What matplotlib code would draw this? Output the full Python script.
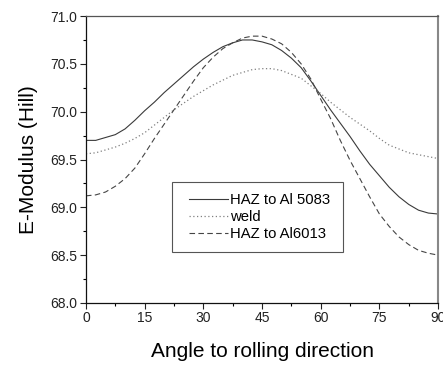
import matplotlib
matplotlib.use("Agg")
import matplotlib.pyplot as plt
from matplotlib.patches import Rectangle
from matplotlib.ticker import MultipleLocator

# Values (E-modulus vs angle in degrees)
angle = [0, 2.5, 5, 7.5, 10, 12.5, 15, 17.5, 20, 22.5, 25, 27.5, 30, 32.5, 35, 37.5,
         40, 42.5, 45, 47.5, 50, 52.5, 55, 57.5, 60, 62.5, 65, 67.5, 70, 72.5, 75,
         77.5, 80, 82.5, 85, 87.5, 90]
haz_5083 = [69.70, 69.70, 69.73, 69.76, 69.82, 69.91, 70.01, 70.10, 70.20, 70.29,
            70.38, 70.47, 70.55, 70.62, 70.68, 70.72, 70.75, 70.75, 70.73, 70.70,
            70.64, 70.56, 70.46, 70.32, 70.17, 70.02, 69.88, 69.74, 69.59, 69.45,
            69.33, 69.21, 69.11, 69.03, 68.97, 68.94, 68.93]
weld = [69.56, 69.57, 69.60, 69.63, 69.67, 69.72, 69.78, 69.86, 69.94, 70.02,
        70.09, 70.16, 70.22, 70.28, 70.33, 70.38, 70.41, 70.44, 70.45, 70.45,
        70.43, 70.39, 70.35, 70.27, 70.19, 70.10, 70.02, 69.94, 69.87, 69.80,
        69.72, 69.65, 69.61, 69.57, 69.55, 69.53, 69.51]
haz_6013 = [69.12, 69.13, 69.16, 69.22, 69.30, 69.41, 69.56, 69.72, 69.87, 70.02,
            70.17, 70.32, 70.46, 70.57, 70.66, 70.72, 70.77, 70.79, 70.79, 70.76,
            70.71, 70.62, 70.50, 70.34, 70.13, 69.93, 69.70, 69.49, 69.30, 69.11,
            68.93, 68.80, 68.69, 68.61, 68.55, 68.52, 68.50]

x_ticks = [0, 15, 30, 45, 60, 75, 90]
y_ticks = [68.0, 68.5, 69.0, 69.5, 70.0, 70.5, 71.0]

plt.rcParams['font.family'] = ['Liberation Sans', 'DejaVu Sans']

fig = plt.figure(figsize=(4.43, 3.65), dpi=100)
ax = fig.add_axes([0.194, 0.170, 0.795, 0.786])

ax.plot(angle, haz_5083, color='#3a3a3a', linewidth=0.8, linestyle='-', label='HAZ to Al 5083')
ax.plot(angle, weld, color='#808080', linewidth=0.9, linestyle=(0, (1, 2)), label='weld')
ax.plot(angle, haz_6013, color='#454545', linewidth=0.8, linestyle=(0, (5, 3)), label='HAZ to Al6013')

ax.set_xlim(0, 90)
ax.set_ylim(68.0, 71.0)
ax.set_xticks(x_ticks)
ax.set_xticklabels([str(t) for t in x_ticks])
ax.set_yticks(y_ticks)
ax.set_yticklabels(['{:.1f}'.format(t) for t in y_ticks])
ax.xaxis.set_minor_locator(MultipleLocator(7.5))
ax.yaxis.set_minor_locator(MultipleLocator(0.25))

ax.tick_params(which='major', direction='out', length=4, width=0.8, labelsize=10,
               pad=2, colors='#222222')
ax.tick_params(which='minor', direction='out', length=2.5, width=0.8)
ax.tick_params(top=False, right=False)

for side in ['left', 'bottom']:
    ax.spines[side].set_color('#111111')
    ax.spines[side].set_linewidth(0.9)
ax.spines['top'].set_color('#555555')
ax.spines['top'].set_linewidth(0.9)
ax.spines['right'].set_color('#888888')
ax.spines['right'].set_linewidth(1.5)

ax.set_xlabel('Angle to rolling direction', fontsize=15, labelpad=12)
ax.set_ylabel('E-Modulus (Hill)', fontsize=15, labelpad=9)

# legend box drawn separately so the padding matches the original
ax.add_patch(Rectangle((0.244, 0.178), 0.486, 0.244, transform=ax.transAxes,
                       facecolor='white', edgecolor='#555555', linewidth=0.8, zorder=4))
leg = ax.legend(loc='center left', bbox_to_anchor=(0.293, 0.300), borderaxespad=0,
                fontsize=10.7, frameon=False, handlelength=2.6,
                handletextpad=0.13, labelspacing=0.2, borderpad=0)
leg.set_zorder(5)

fig.savefig('out.png', dpi=100)
